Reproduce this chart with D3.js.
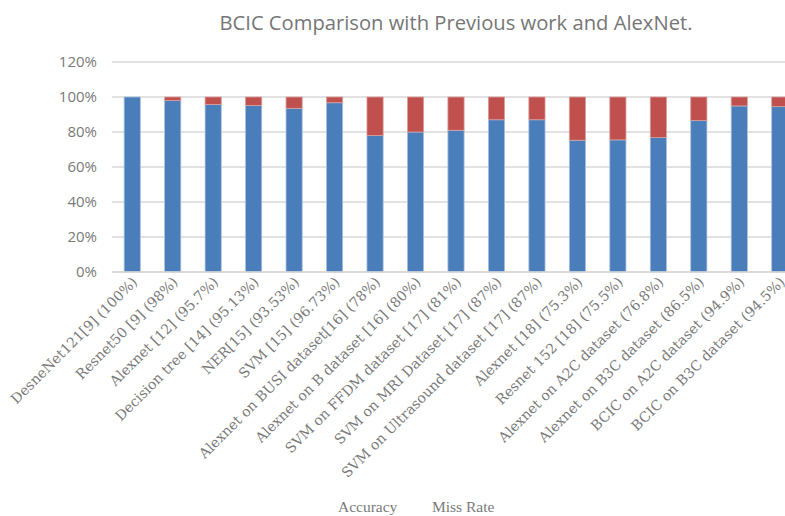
<!DOCTYPE html>
<html>
<head>
<meta charset="utf-8">
<script src="https://cdn.jsdelivr.net/npm/d3@7"></script>
<style>
  html, body { margin: 0; padding: 0; background: #fff; }
  svg { display: block; }
</style>
</head>
<body>
<svg id="chart" width="785" height="516"></svg>
<script>
// Models compared, with their reported accuracy
const categories = [
  "DesneNet121[9] (100%)",
  "Resnet50 [9] (98%)",
  "Alexnet [12] (95.7%)",
  "Decision tree [14] (95.13%)",
  "NER[15] (93.53%)",
  "SVM [15] (96.73%)",
  "Alexnet on BUSI dataset[16] (78%)",
  "Alexnet on B dataset [16] (80%)",
  "SVM on FFDM dataset [17] (81%)",
  "SVM on MRI Dataset [17] (87%)",
  "SVM on Ultrasound dataset [17] (87%)",
  "Alexnet [18] (75.3%)",
  "Resnet 152 [18] (75.5%)",
  "Alexnet on A2C dataset (76.8%)",
  "Alexnet on B3C dataset (86.5%)",
  "BCIC on A2C dataset (94.9%)",
  "BCIC on B3C dataset (94.5%)"
];
const accuracy = [100, 98, 95.7, 95.13, 93.53, 96.73, 78, 80, 81, 87, 87, 75.3, 75.5, 76.8, 86.5, 94.9, 94.5];
const missRate = [0, 2, 4.3, 4.87, 6.47, 3.27, 22, 20, 19, 13, 13, 24.7, 24.5, 23.2, 13.5, 5.1, 5.5];
const yTicks = [0, 20, 40, 60, 80, 100, 120];
const seriesNames = ["Accuracy", "Miss Rate"];
const seriesColors = ["#4a7ebb", "#c0504d"];

const svg = d3.select("#chart");
const margin = { left: 112, right: -15, top: 62, bottom: 244 };
const W = 785, H = 516;

const x = d3.scaleBand()
  .domain(categories)
  .range([margin.left, W - margin.right])
  .paddingInner(0.6)
  .paddingOuter(0.3);

const y = d3.scaleLinear()
  .domain([0, 120])
  .range([H - margin.bottom, margin.top]);

// Title
svg.append("text")
  .attr("x", 456).attr("y", 30)
  .attr("text-anchor", "middle")
  .attr("font-family", "'Open Sans', 'Noto Sans', sans-serif")
  .attr("font-size", 20.2)
  .attr("fill", "#767676")
  .text("BCIC Comparison with Previous work and AlexNet.");

// Horizontal gridlines
svg.append("g")
  .selectAll("line")
  .data(yTicks)
  .join("line")
  .attr("x1", margin.left).attr("x2", W)
  .attr("y1", d => y(d)).attr("y2", d => y(d))
  .attr("stroke", "#d9d9d9")
  .attr("stroke-width", 1.3);

// Y axis labels
const yAxis = d3.axisLeft(y).tickValues(yTicks).tickFormat(d => d + "%").tickSize(0).tickPadding(15);
const gy = svg.append("g").attr("transform", `translate(${margin.left},0)`).call(yAxis);
gy.select(".domain").remove();
gy.selectAll("text")
  .attr("font-family", "'Open Sans', 'Noto Sans', sans-serif")
  .attr("font-size", 15)
  .attr("fill", "#7a7a7a");

// Stacked bars
const stackData = categories.map((c, i) => ({ cat: c, Accuracy: accuracy[i], "Miss Rate": missRate[i] }));
const stacked = d3.stack().keys(seriesNames)(stackData);

svg.append("g")
  .selectAll("g")
  .data(stacked)
  .join("g")
  .attr("fill", (d, i) => seriesColors[i])
  .selectAll("rect")
  .data(d => d)
  .join("rect")
  .attr("x", d => x(d.data.cat))
  .attr("width", x.bandwidth())
  .attr("y", d => y(d[1]))
  .attr("height", d => y(d[0]) - y(d[1]))
  .attr("stroke", (d, i, n) => d3.select(n[i].parentNode).datum().key === "Accuracy" ? "#a9c0de" : "#d8a09e")
  .attr("stroke-width", 0.8);

// Baseline
svg.append("line")
  .attr("x1", margin.left).attr("x2", W)
  .attr("y1", y(0)).attr("y2", y(0))
  .attr("stroke", "#d9d9d9")
  .attr("stroke-width", 1.3);

// X axis labels, rotated 45 degrees
const xAxis = d3.axisBottom(x).tickSize(0).tickPadding(0);
const gx = svg.append("g").attr("transform", `translate(0,${y(0)})`).call(xAxis);
gx.select(".domain").remove();
gx.selectAll("text")
  .style("font-family", "'DejaVu Serif', serif")
  .style("font-size", "14px")
  .attr("fill", "#7a7a7a")
  .attr("text-anchor", "end")
  .attr("dy", null)
  .attr("transform", "translate(6,11) rotate(-45)");

// Legend (text only)
const legendX = [338, 432];
svg.append("g")
  .selectAll("text")
  .data(seriesNames)
  .join("text")
  .attr("x", (d, i) => legendX[i])
  .attr("y", 512)
  .attr("font-family", "'Liberation Serif', 'DejaVu Serif', serif")
  .attr("font-size", 15.5)
  .attr("fill", "#7a7a7a")
  .text(d => d);
</script>
</body>
</html>
